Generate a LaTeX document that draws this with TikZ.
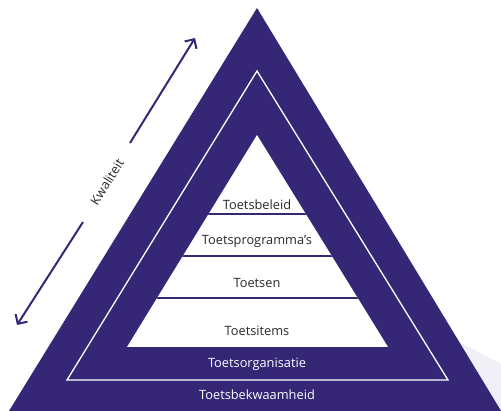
\documentclass[tikz,border=0pt]{standalone}
\usepackage{fontspec}
\setmainfont{Open Sans}
\usetikzlibrary{arrows.meta}
\definecolor{pyr}{RGB}{53,38,118}
\definecolor{faint}{RGB}{241,239,246}
\definecolor{txt}{RGB}{40,40,40}
\tikzset{
  lbl/.style={font=\fontsize{12.8}{15}\selectfont, text=txt, inner sep=0pt},
  wlbl/.style={font=\fontsize{12.8}{15}\selectfont, text=white, inner sep=0pt},
  sep/.style={draw=pyr, line width=2pt},
  qarrow/.style={draw=pyr, line width=2pt, -{Straight Barb[length=7pt,width=14pt,line width=2pt]}}
}
\begin{document}
\begin{tikzpicture}[x=1pt,y=-1pt]
\useasboundingbox (0,0) rectangle (501,411);
\begin{scope}
\clip (0,0) rectangle (501,411);
% faint background shape
\fill[faint] (440,332) -- (501,364) -- (501,411) -- (450,411) -- cycle;
% outer triangle
\fill[pyr] (257,8) -- (6.5,415) -- (503.5,415) -- cycle;
\end{scope}
% white line triangle
\draw[white, line width=1.3pt] (257,71) -- (67,380) -- (448,380) -- cycle;
% inner white triangle
\fill[white] (257,135) -- (127,347) -- (388,347) -- cycle;
\begin{scope}
\clip (257,135) -- (127,347) -- (388,347) -- cycle;
\draw[sep] (100,214) -- (420,214);
\draw[sep] (100,256) -- (420,256);
\draw[sep] (100,298) -- (420,298);
\end{scope}
% labels
\node[lbl] (beleid) at (257,205) {Toetsbeleid};
\node[lbl] (progr) at (257,241) {Toetsprogramma’s};
\node[lbl] (toetsen) at (257,283) {Toetsen};
\node[lbl] (items) at (257,331) {Toetsitems};
\node[wlbl] (org) at (257,364) {Toetsorganisatie};
\node[wlbl] (bekw) at (257,395) {Toetsbekwaamheid};
% quality arrow
\coordinate (qlow) at (17,325);
\coordinate (qlowend) at (83,222);
\coordinate (qhighstart) at (130,143);
\coordinate (qhigh) at (195,38);
\node[lbl, rotate=57.7] (kwal) at (107,182) {Kwaliteit};
\draw[qarrow] (qlowend) -- (qlow);
\draw[qarrow] (qhighstart) -- (qhigh);
\end{tikzpicture}
\end{document}
